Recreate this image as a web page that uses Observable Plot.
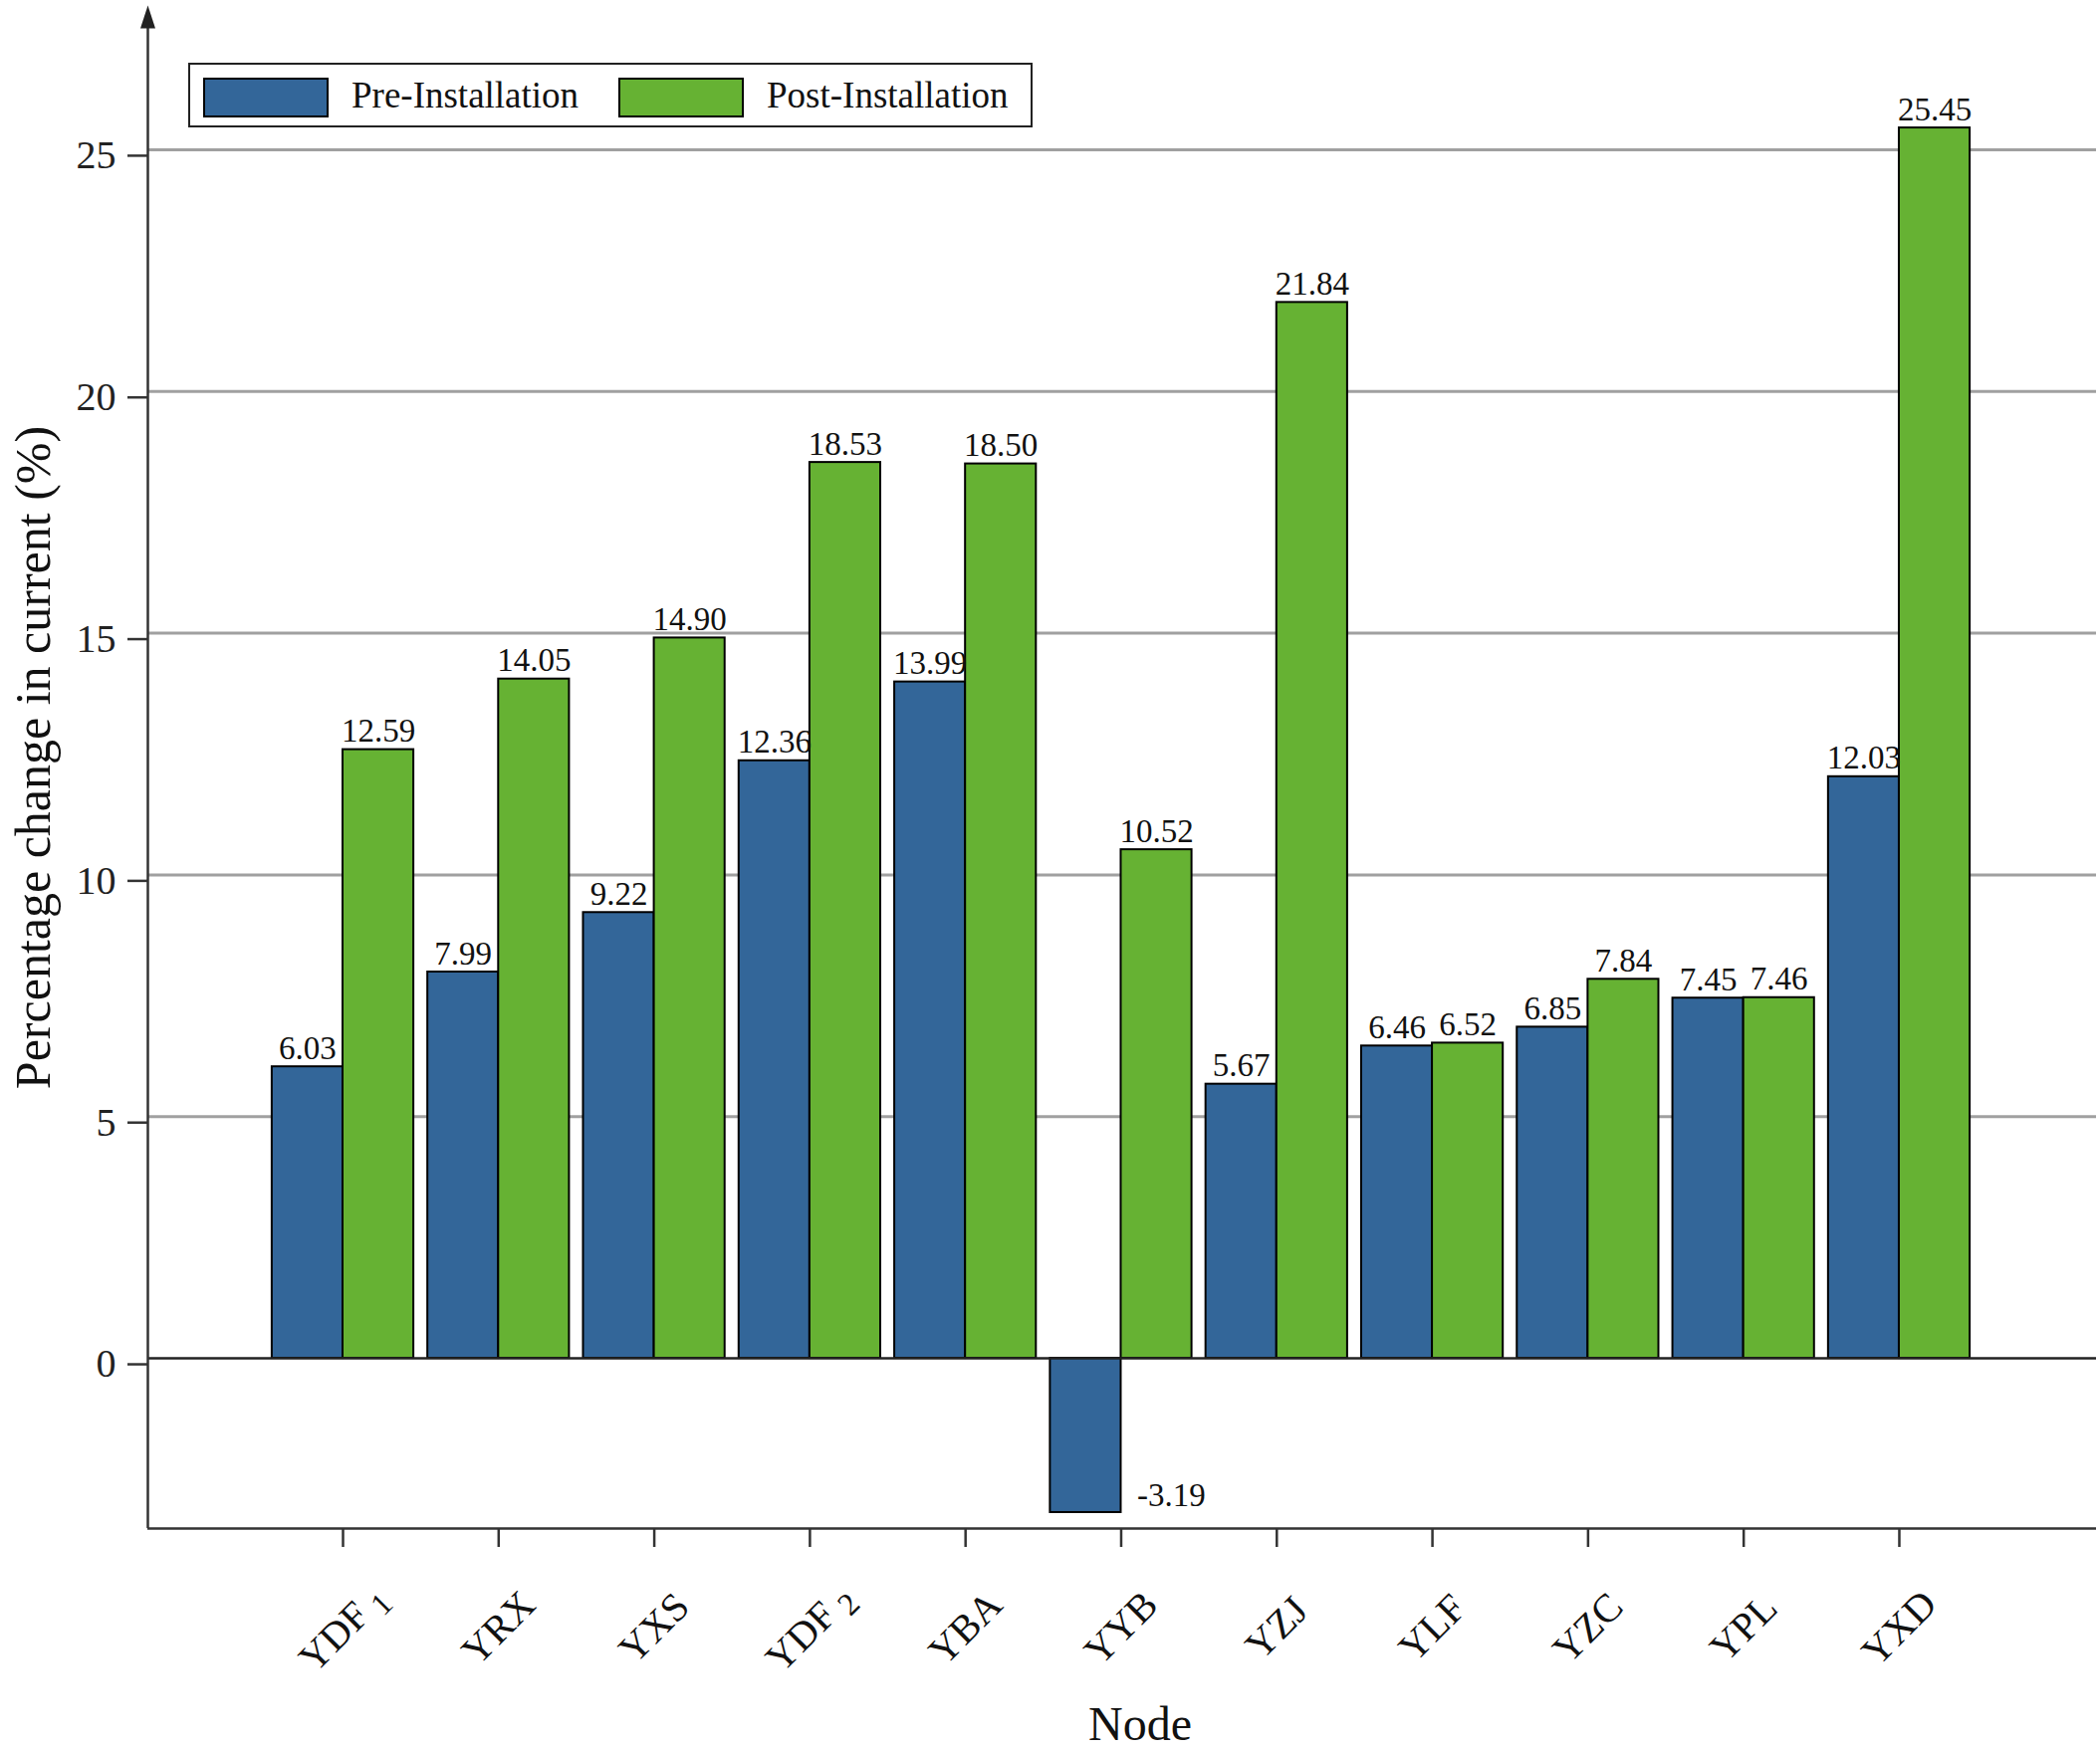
<!DOCTYPE html>
<html>
<head>
<meta charset="utf-8">
<script src="https://cdn.jsdelivr.net/npm/d3@7"></script>
<script src="https://cdn.jsdelivr.net/npm/@observablehq/plot@0.6"></script>
<style>
  html, body { margin: 0; padding: 0; background: #fff; }
  #wrap { position: relative; width: 2109px; height: 1758px; font-family: "Liberation Serif", "Times New Roman", serif; }
  #legend { position: absolute; left: 189px; top: 63px; width: 848px; height: 65px; box-sizing: border-box;
            border: 2px solid #222; background: #fff; }
  .sw { position: absolute; top: 13px; width: 126px; height: 40px; box-sizing: border-box; border: 2px solid #000; }
  .lt { position: absolute; top: 0; height: 61px; line-height: 61px; font-size: 37px; color: #111; white-space: nowrap; }
</style>
</head>
<body>
<div id="wrap">
  <div id="chart"></div>
  <div id="legend"></div>
</div>
<script>
// ---- data ----
const nodes = ["YDF1", "YRX", "YXS", "YDF2", "YBA", "YYB", "YZJ", "YLF", "YZC", "YPL", "YXD"];
const preInstallation  = [6.03, 7.99, 9.22, 12.36, 13.99, -3.19, 5.67, 6.46, 6.85, 7.45, 12.03];
const postInstallation = [12.59, 14.05, 14.90, 18.53, 18.50, 10.52, 21.84, 6.52, 7.84, 7.46, 25.45];
const seriesNames = ["Pre-Installation", "Post-Installation"];
const seriesColors = ["#336699", "#66b233"];
const yTicks = [0, 5, 10, 15, 20, 25];
const gridTicks = [5, 10, 15, 20, 25];
const yDomain = [-3.52, 27.51];
const xDomain = [-1.254, 11.267];

// ---- build table ----
const bw = 0.455; // bar width in band units
const rows = [];
nodes.forEach((n, i) => {
  rows.push({node: n, i, series: seriesNames[0], value: preInstallation[i], x1: i - bw, x2: i});
  rows.push({node: n, i, series: seriesNames[1], value: postInstallation[i], x1: i, x2: i + bw});
});
const posRows = rows.filter(d => d.value >= 0);
const negRows = rows.filter(d => d.value < 0);

const font = '"Liberation Serif", "Times New Roman", serif';

// narrow arrow-head symbol (tip up, base at anchor point)
const arrowHead = {
  draw(context) {
    context.moveTo(0, -23);
    context.lineTo(7.5, 0);
    context.lineTo(-7.5, 0);
    context.closePath();
  }
};

const chart = Plot.plot({
  width: 2109,
  height: 1758,
  marginLeft: 148,
  marginRight: 4,
  marginTop: 28,
  marginBottom: 223,
  style: {fontFamily: font, background: "#fff", color: "#222"},
  x: {type: "linear", domain: xDomain},
  y: {domain: yDomain},
  color: {domain: seriesNames, range: seriesColors},
  marks: [
    Plot.ruleY(gridTicks, {stroke: "#a0a0a0", strokeWidth: 3}),
    Plot.rectY(rows, {x1: "x1", x2: "x2", y1: 0, y2: "value", fill: "series", stroke: "#000", strokeWidth: 2}),
    Plot.ruleY([0], {stroke: "#222", strokeWidth: 2.5}),
    Plot.text(posRows, {x: d => (d.x1 + d.x2) / 2, y: "value", text: d => d.value.toFixed(2),
      fontSize: 33, lineAnchor: "bottom", dy: -8, fill: "#111"}),
    Plot.text(negRows, {x: "x2", y: "value", text: d => d.value.toFixed(2),
      fontSize: 33, lineAnchor: "bottom", textAnchor: "start", dx: 16, dy: -6, fill: "#111"}),
    // axis lines
    Plot.ruleX([xDomain[0]], {stroke: "#333", strokeWidth: 2.5}),
    Plot.ruleY([yDomain[0]], {stroke: "#333", strokeWidth: 2.5}),
    Plot.axisY({ticks: yTicks, tickSize: 20, tickPadding: 12, fontSize: 40, label: null,
      stroke: "#333", strokeWidth: 2.5, dy: 6}),
    Plot.axisX({ticks: d3.range(nodes.length), tickFormat: () => "", tickSize: 19, label: null,
      stroke: "#333", strokeWidth: 2.5}),
    Plot.text(d3.range(nodes.length), {x: d => d, text: d => nodes[d], frameAnchor: "bottom",
      rotate: -45, textAnchor: "middle", lineAnchor: "middle", dy: 100, fontSize: 40, fill: "#111"}),
    Plot.text(["Percentage change in current (%)"], {frameAnchor: "left", rotate: -90, dx: -115, dy: -21,
      textAnchor: "middle", lineAnchor: "middle", fontSize: 50, fill: "#111"}),
    Plot.text(["Node"], {frameAnchor: "bottom", dx: 18, dy: 197, textAnchor: "middle", lineAnchor: "middle", fontSize: 48, fill: "#111"}),
    Plot.dot([0], {frameAnchor: "top-left", symbol: arrowHead, r: 1, fill: "#222", stroke: "none"})
  ]
});
document.getElementById("chart").appendChild(chart);

// subscript digits in node labels (YDF1 -> YDF with subscript 1)
const subNodes = new Set(nodes.filter(n => /\d$/.test(n)));
d3.select(chart).selectAll("text").each(function () {
  const t = this.textContent;
  if (!subNodes.has(t)) return;
  const m = t.match(/^(.*?)(\d+)$/);
  const sel = d3.select(this);
  sel.text(null);
  sel.append("tspan").text(m[1]);
  sel.append("tspan").attr("font-size", "32").attr("dx", "9").attr("dy", "8").text(m[2]);
});

// legend
const legend = document.getElementById("legend");
const swLeft = [13, 430], txLeft = [162, 579];
seriesNames.forEach((s, k) => {
  const sw = document.createElement("div");
  sw.className = "sw"; sw.style.left = swLeft[k] + "px"; sw.style.background = seriesColors[k];
  legend.appendChild(sw);
  const tx = document.createElement("div");
  tx.className = "lt"; tx.style.left = txLeft[k] + "px"; tx.textContent = s;
  legend.appendChild(tx);
});
</script>
</body>
</html>
